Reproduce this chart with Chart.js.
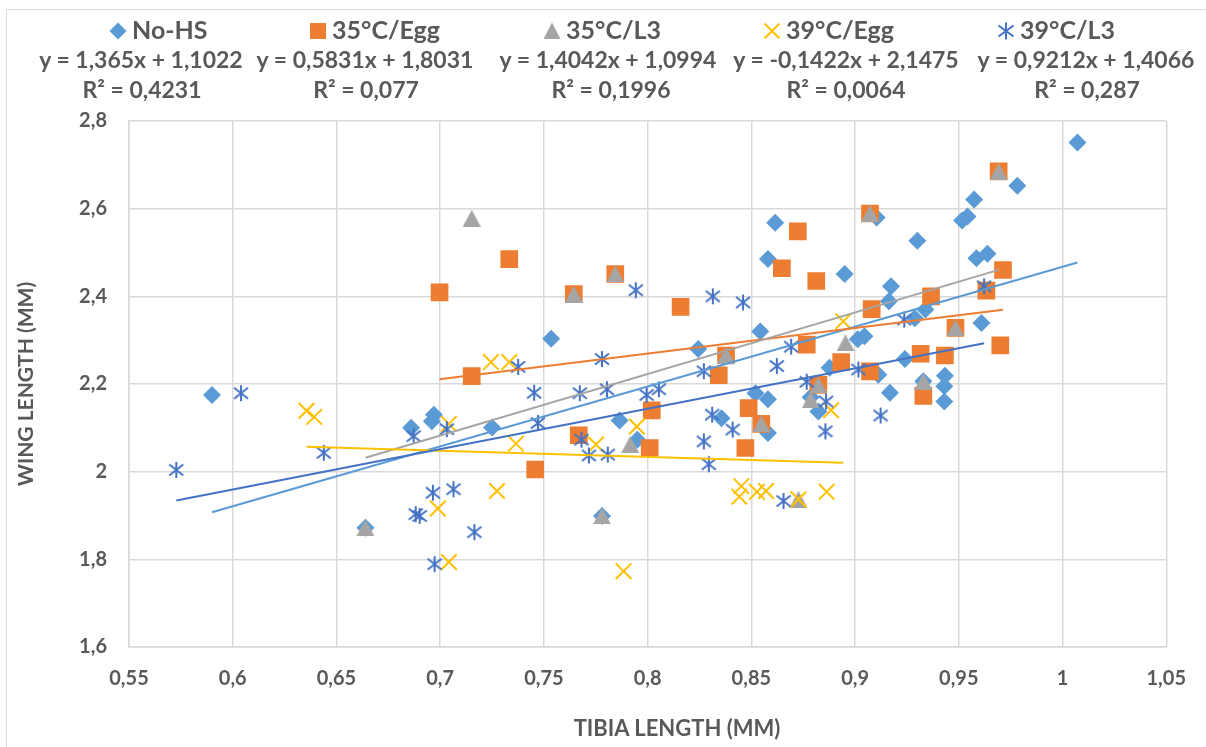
<!DOCTYPE html>
<html lang="en">
<head>
<meta charset="UTF-8" />
<title>Wing length vs tibia length</title>
<script src="https://cdn.jsdelivr.net/npm/chart.js"></script>
<style>
  * { margin: 0; padding: 0; box-sizing: border-box; }
  body {
    width: 1206px;
    height: 747px;
    background: #ffffff;
    overflow: hidden;
    position: relative;
    font-family: Lato, "Open Sans", sans-serif;
  }
  .frame {
    position: absolute;
    left: 6px;
    top: 9px;
    width: 1230px;
    height: 770px;
    border: 1px solid #d9d9d9;
  }
  #chart { position: absolute; left: 0; top: 0; }
  #overlay { position: absolute; left: 0; top: 0; }
  #overlay text { font-family: Lato, "Open Sans", sans-serif; font-weight: bold; fill: #595959; }
</style>
</head>
<body>
<div class="frame"></div>
<canvas id="chart" width="1206" height="747"></canvas>
<svg id="overlay" width="1206" height="747"></svg>

<script>
// series names and colours (Excel defaults)
const seriesNames = ["No-HS", "35°C/Egg", "35°C/L3", "39°C/Egg", "39°C/L3"];
const seriesColors = ["#5B9BD5", "#ED7D31", "#A5A5A5", "#FFC000", "#4472C4"];

// trendline coefficients as printed on the chart
const trendSlope = [1.365, 0.5831, 1.4042, -0.1422, 0.9212];
const trendIntercept = [1.1022, 1.8031, 1.0994, 2.1475, 1.4066];
const trendR2 = [0.4231, 0.077, 0.1996, 0.0064, 0.287];

// No-HS
const noHsX = [0.590, 0.664, 0.686, 0.697, 0.696, 0.725, 0.7535, 0.778, 0.7865, 0.795,
  0.8244, 0.8356, 0.852, 0.858, 0.858, 0.8543, 0.8615, 0.858, 0.895, 0.9104,
  0.930, 0.9173, 0.9163, 0.9288, 0.9013, 0.9045, 0.8877, 0.9112, 0.924, 0.8823,
  0.8786, 0.9168, 1.0072, 0.9782, 0.9574, 0.9516, 0.9542, 0.9585, 0.9638, 0.9339,
  0.9609, 0.9433, 0.9329, 0.943, 0.943];
const noHsY = [2.175, 1.872, 2.100, 2.130, 2.115, 2.101, 2.303, 1.899, 2.117, 2.073,
  2.280, 2.122, 2.179, 2.165, 2.088, 2.320, 2.568, 2.485, 2.451, 2.580,
  2.527, 2.423, 2.389, 2.350, 2.302, 2.309, 2.237, 2.221, 2.257, 2.137,
  2.170, 2.180, 2.751, 2.652, 2.621, 2.573, 2.582, 2.487, 2.497, 2.370,
  2.339, 2.219, 2.206, 2.195, 2.160];

// 35°C/Egg
const egg35X = [0.6997, 0.7152, 0.7333, 0.7458, 0.7644, 0.7668, 0.7844, 0.802, 0.801, 0.8159,
  0.8343, 0.8378, 0.8487, 0.8548, 0.8471, 0.8647, 0.8724, 0.8813, 0.8767, 0.8823,
  0.8933, 0.9072, 0.908, 0.9072, 0.9316, 0.9329, 0.9366, 0.9433, 0.9484, 0.9633,
  0.9692, 0.9713, 0.970];
const egg35Y = [2.409, 2.218, 2.485, 2.005, 2.405, 2.083, 2.451, 2.140, 2.054, 2.376,
  2.220, 2.265, 2.145, 2.109, 2.054, 2.464, 2.548, 2.435, 2.290, 2.198,
  2.250, 2.589, 2.371, 2.229, 2.269, 2.173, 2.400, 2.265, 2.328, 2.413,
  2.685, 2.460, 2.288];

// 35°C/L3
const l335X = [0.664, 0.7152, 0.7644, 0.7844, 0.778, 0.7916, 0.8378, 0.8548, 0.8727, 0.8786,
  0.8823, 0.8954, 0.9072, 0.9329, 0.9484, 0.9692];
const l335Y = [1.872, 2.578, 2.405, 2.451, 1.899, 2.062, 2.265, 2.109, 1.937, 2.164,
  2.198, 2.294, 2.589, 2.206, 2.328, 2.685];

// 39°C/Egg
const egg39X = [0.6356, 0.6393, 0.6989, 0.7042, 0.7042, 0.7245, 0.7333, 0.7274, 0.7365, 0.7751,
  0.7884, 0.7948, 0.8452, 0.8442, 0.8527, 0.8571, 0.8727, 0.8863, 0.8884, 0.8943];
const egg39Y = [2.139, 2.125, 1.916, 2.109, 1.794, 2.250, 2.250, 1.956, 2.064, 2.062,
  1.773, 2.103, 1.967, 1.943, 1.954, 1.956, 1.937, 1.954, 2.140, 2.343];

// 39°C/L3
const l339X = [0.5728, 0.604, 0.6439, 0.6872, 0.7032, 0.6965, 0.7064, 0.6882, 0.6901, 0.7165,
  0.6973, 0.7376, 0.7453, 0.7471, 0.7673, 0.7681, 0.7717, 0.778, 0.7804, 0.7808,
  0.7943, 0.7995, 0.8054, 0.8271, 0.8271, 0.8295, 0.8311, 0.8314, 0.841, 0.846,
  0.8623, 0.8655, 0.8692, 0.8767, 0.886, 0.8857, 0.9016, 0.9123, 0.9237, 0.9622];
const l339Y = [2.004, 2.179, 2.043, 2.081, 2.097, 1.952, 1.960, 1.903, 1.899, 1.862,
  1.789, 2.239, 2.180, 2.111, 2.179, 2.073, 2.037, 2.257, 2.188, 2.039,
  2.414, 2.175, 2.188, 2.229, 2.069, 2.017, 2.130, 2.400, 2.096, 2.386,
  2.241, 1.933, 2.285, 2.205, 2.160, 2.092, 2.233, 2.128, 2.347, 2.423];

const xsList = [noHsX, egg35X, l335X, egg39X, l339X];
const ysList = [noHsY, egg35Y, l335Y, egg39Y, l339Y];

function comma(v) {
  return String(v).replace(".", ",");
}

function makeAsterisk(color) {
  const c = document.createElement("canvas");
  c.width = 20;
  c.height = 20;
  const g = c.getContext("2d");
  g.strokeStyle = color;
  g.lineWidth = 2;
  g.beginPath();
  g.moveTo(10, 2); g.lineTo(10, 18);
  g.moveTo(3, 4.5); g.lineTo(17, 15.5);
  g.moveTo(17, 4.5); g.lineTo(3, 15.5);
  g.stroke();
  return c;
}

function makeTriangle(color) {
  const c = document.createElement("canvas");
  c.width = 18;
  c.height = 17;
  const g = c.getContext("2d");
  g.fillStyle = color;
  g.beginPath();
  g.moveTo(9, 0); g.lineTo(18, 17); g.lineTo(0, 17);
  g.closePath();
  g.fill();
  return c;
}

const pointStyles = ["rectRot", "rect", makeTriangle(seriesColors[2]), "crossRot", makeAsterisk(seriesColors[4])];
const pointRadii = [9, 12.5, 9, 11, 10];
const pointBorders = [0, 0, 0, 2, 0];

const datasets = [];
for (let i = 0; i < seriesNames.length; i++) {
  const xs = xsList[i], ys = ysList[i];
  datasets.push({
    label: seriesNames[i],
    data: xs.map((x, k) => ({ x: x, y: ys[k] })),
    showLine: false,
    pointStyle: pointStyles[i],
    pointRadius: pointRadii[i],
    pointBorderWidth: pointBorders[i],
    pointBackgroundColor: seriesColors[i],
    pointBorderColor: seriesColors[i],
    order: 10 - i,
  });
}
// linear trendlines over each series' x range
for (let i = 0; i < seriesNames.length; i++) {
  const xs = xsList[i];
  const x0 = Math.min(...xs), x1 = Math.max(...xs);
  datasets.push({
    label: seriesNames[i] + " trend",
    data: [
      { x: x0, y: trendSlope[i] * x0 + trendIntercept[i] },
      { x: x1, y: trendSlope[i] * x1 + trendIntercept[i] },
    ],
    showLine: true,
    borderColor: seriesColors[i],
    borderWidth: 2,
    pointRadius: 0,
    order: 5 - i,
  });
}

const textColor = "#595959";
const gridColor = "#d9d9d9";
const tickFont = { family: "Lato", size: 20, weight: "bold" };
const titleFont = { family: "Lato", size: 21, weight: "bold" };

new Chart(document.getElementById("chart"), {
  type: "scatter",
  data: { datasets: datasets },
  options: {
    responsive: false,
    animation: false,
    events: [],
    layout: { padding: { top: 121, right: 31, left: 0, bottom: 0 } },
    plugins: { legend: { display: false }, tooltip: { enabled: false } },
    scales: {
      x: {
        min: 0.55,
        max: 1.05,
        afterFit: (s) => { s.height = 100; },
        ticks: {
          stepSize: 0.05,
          padding: 20,
          color: textColor,
          font: tickFont,
          callback: (v) => comma(Math.round(v * 100) / 100),
        },
        grid: { color: gridColor, lineWidth: 1.5, drawTicks: false },
        border: { color: gridColor, width: 1.5 },
      },
      y: {
        min: 1.6,
        max: 2.8,
        afterFit: (s) => { s.width = 129; },
        ticks: {
          stepSize: 0.2,
          padding: 22,
          color: textColor,
          font: tickFont,
          callback: (v) => comma(Math.round(v * 10) / 10),
        },
        grid: { color: gridColor, lineWidth: 1.5, drawTicks: false },
        border: { color: gridColor, width: 1.5 },
        title: {
          display: true,
          text: "WING LENGTH (MM)",
          color: textColor,
          font: titleFont,
          padding: { top: 14, bottom: 0 },
        },
      },
    },
  },
});

// legend, trendline equations and x-axis title drawn as SVG text
const svgNS = "http://www.w3.org/2000/svg";
const svg = document.getElementById("overlay");
const markerX = [118, 318, 552, 772, 1006];
const equationX = [141, 365, 608, 846, 1086];
const r2X = [142, 366, 611, 846, 1087];

function addText(txt, x, y, size, anchor) {
  const t = document.createElementNS(svgNS, "text");
  t.setAttribute("x", x);
  t.setAttribute("y", y);
  t.setAttribute("font-size", size);
  t.setAttribute("text-anchor", anchor);
  t.textContent = txt;
  svg.appendChild(t);
}

function addShape(tag, attrs) {
  const el = document.createElementNS(svgNS, tag);
  for (const k in attrs) el.setAttribute(k, attrs[k]);
  svg.appendChild(el);
}

for (let i = 0; i < seriesNames.length; i++) {
  const mx = markerX[i], my = 31, c = seriesColors[i];
  if (i === 0) addShape("polygon", { points: `${mx - 8.5},${my} ${mx},${my - 8.5} ${mx + 8.5},${my} ${mx},${my + 8.5}`, fill: c });
  if (i === 1) addShape("rect", { x: mx - 8, y: my - 8, width: 16, height: 16, fill: c });
  if (i === 2) addShape("polygon", { points: `${mx},${my - 8.5} ${mx + 8.5},${my + 8} ${mx - 8.5},${my + 8}`, fill: c });
  if (i === 3) addShape("path", { d: `M${mx - 7.5},${my - 7.5}L${mx + 7.5},${my + 7.5}M${mx + 7.5},${my - 7.5}L${mx - 7.5},${my + 7.5}`, stroke: c, "stroke-width": 2, fill: "none" });
  if (i === 4) addShape("path", { d: `M${mx},${my - 8.5}L${mx},${my + 8.5}M${mx - 7.5},${my - 5.5}L${mx + 7.5},${my + 5.5}M${mx + 7.5},${my - 5.5}L${mx - 7.5},${my + 5.5}`, stroke: c, "stroke-width": 2, fill: "none" });
  addText(seriesNames[i], mx + 14, 39, 25, "start");

  const eq = `y = ${comma(trendSlope[i])}x + ${comma(trendIntercept[i])}`;
  addText(eq, equationX[i], 68, 23, "middle");
  addText(`R² = ${comma(trendR2[i])}`, r2X[i], 98, 23, "middle");
}

addText("TIBIA LENGTH (MM)", 677, 736, 22, "middle");
</script>
</body>
</html>
